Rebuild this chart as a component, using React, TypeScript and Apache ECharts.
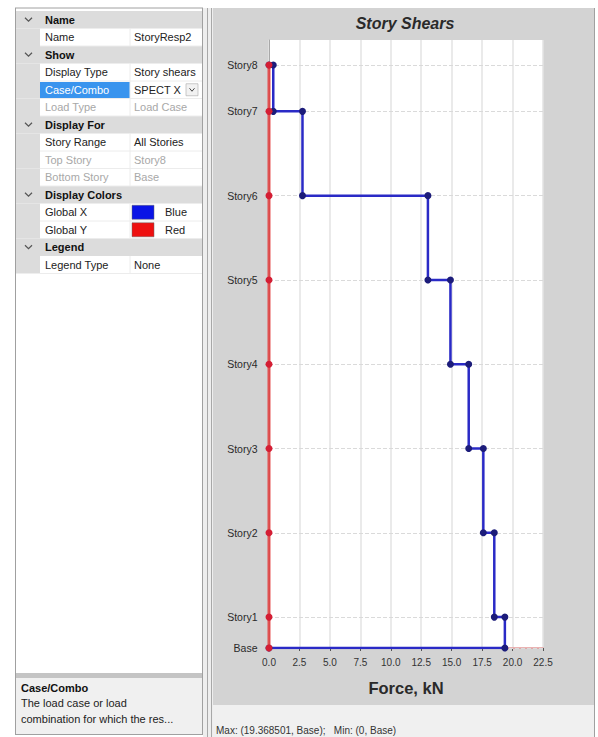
import React, { useEffect, useRef } from "react";
import * as echarts from "echarts";

// ---- chart data ----
const stories = ["Base", "Story1", "Story2", "Story3", "Story4", "Story5", "Story6", "Story7", "Story8"];
const elevations = [0, 1.1, 4.1, 7.1, 10.1, 13.1, 16.1, 19.1, 20.75];
// shear in the story below each level, Story1..Story8 (Global X)
const shearX = [19.3685, 18.5, 17.6, 16.4, 14.9, 13.05, 2.75, 0.35];
// Global Y shears (all zero)
const shearY = [0, 0, 0, 0, 0, 0, 0, 0, 0];
const xMin = 0;
const xMax = 22.5;
const xStep = 2.5;
const yMax = 21.64;

// ---- property grid text ----
const rowKinds = ["h", "p", "h", "p", "sel", "dis", "h", "p", "dis", "dis", "h", "c", "c", "h", "p"];
const propNames = [
  "Name", "Name", "Show", "Display Type", "Case/Combo", "Load Type", "Display For",
  "Story Range", "Top Story", "Bottom Story", "Display Colors", "Global X", "Global Y", "Legend", "Legend Type",
];
const propValues = ["", "StoryResp2", "", "Story shears", "SPECT X", "Load Case", "", "All Stories", "Story8", "Base", "", "Blue", "Red", "", "None"];
const descTitle = "Case/Combo";
const descLines = ["The load case or load", "combination for which the res..."];
const titleText = "Story Shears";
const xAxisName = "Force, kN";
const statusText = "Max: (19.368501, Base);   Min: (0, Base)";

const BLUE = "#2a2ac6";
const RED = "#e23a3a";
const FONT = '"Liberation Sans", Arial, sans-serif';

export default function App() {
  const ref = useRef<HTMLDivElement>(null);

  useEffect(() => {
    if (!ref.current) return;
    const chart = echarts.init(ref.current, null, { renderer: "svg" });

    // blue step line from the story shears
    const bluePts: number[][] = [[0, elevations[8]]];
    for (let i = 8; i >= 1; i--) {
      bluePts.push([shearX[i - 1], elevations[i]]);
      bluePts.push([shearX[i - 1], elevations[i - 1]]);
    }
    bluePts.push([0, elevations[0]]);
    const redPts = elevations.map((e, i) => [shearY[i], e]);

    const g: any[] = [];
    const bg = (x: number, y: number, w: number, h: number, fill: string, z = -100) =>
      g.push({ type: "rect", z, silent: true, shape: { x, y, width: w, height: h }, style: { fill } });
    const ln = (x1: number, y1: number, x2: number, y2: number, stroke: string, z = -90) =>
      g.push({ type: "line", z, silent: true, shape: { x1, y1, x2, y2 }, style: { stroke, lineWidth: 1 } });
    const tx = (x: number, y: number, text: string, fill: string, font: string, align = "left") =>
      g.push({ type: "text", z: 100, silent: true, x, y, style: { text, fill, font, align, verticalAlign: "middle" } });

    bg(0, 0, 598, 737, "#ffffff", -200);
    // left panel
    bg(15, 8, 188, 727, "#ffffff");
    const rowH = 17.5;
    const top0 = 11;
    const gutterEnd = 40;
    const valX = 130;
    rowKinds.forEach((k, i) => {
      const y = top0 + rowH * i;
      const c = y + rowH / 2;
      if (k === "h") {
        bg(15, y, 188, rowH, "#dcdcdc", -95);
        g.push({
          type: "polyline", z: 100, silent: true,
          shape: { points: [[25, c - 2], [28.5, c + 1.5], [32, c - 2]] },
          style: { stroke: "#555", lineWidth: 1.2, fill: "none" },
        });
        tx(45, c, propNames[i], "#111", `bold 11px ${FONT}`);
      } else {
        bg(15, y, gutterEnd - 15, rowH, "#dcdcdc", -95);
        ln(gutterEnd, y + rowH, 203, y + rowH, "#ececec");
        ln(valX, y, valX, y + rowH, "#ececec");
        if (k === "sel") {
          bg(gutterEnd, y + 1, valX - gutterEnd, rowH - 1, "#3994ee", -94);
          tx(45, c, propNames[i], "#ffffff", `11px ${FONT}`);
        } else {
          tx(45, c, propNames[i], k === "dis" ? "#a8a8a8" : "#222", `11px ${FONT}`);
        }
        if (k === "c") {
          const col = propValues[i] === "Blue" ? "#0a14e6" : "#ee1010";
          g.push({
            type: "rect", z: 100, silent: true,
            shape: { x: 132, y: c - 7, width: 22, height: 14 },
            style: { fill: col, stroke: "#666", lineWidth: 0.5 },
          });
          tx(165, c, propValues[i], "#222", `11px ${FONT}`);
        } else {
          tx(134, c, propValues[i], k === "dis" ? "#a8a8a8" : "#222", `11px ${FONT}`);
        }
        if (k === "sel") {
          g.push({
            type: "rect", z: 100, silent: true,
            shape: { x: 186, y: c - 6, width: 12, height: 12 },
            style: { fill: "#f2f2f2", stroke: "#aaa", lineWidth: 0.6 },
          });
          g.push({
            type: "polyline", z: 101, silent: true,
            shape: { points: [[189.5, c - 1.5], [192, c + 1.5], [194.5, c - 1.5]] },
            style: { stroke: "#444", lineWidth: 1, fill: "none" },
          });
        }
      }
    });
    // description box
    bg(15, 673, 188, 5, "#c4c4c4", -95);
    bg(15, 678, 188, 56, "#f0f0f0", -95);
    tx(21, 688, descTitle, "#111", `bold 11px ${FONT}`);
    tx(21, 703, descLines[0], "#222", `11px ${FONT}`);
    tx(21, 719, descLines[1], "#222", `11px ${FONT}`);
    ln(15, 8, 203, 8, "#a0a0a0", -80);
    ln(15.5, 8, 15.5, 735, "#a0a0a0", -80);
    ln(202.5, 8, 202.5, 735, "#a0a0a0", -80);
    ln(15, 734.5, 203, 734.5, "#a0a0a0", -80);
    // splitter
    bg(203, 8, 10, 729, "#eeeeee", -95);
    ln(207.5, 8, 207.5, 737, "#a8a8a8", -80);
    ln(211.5, 8, 211.5, 737, "#a8a8a8", -80);
    // chart panel
    bg(213, 8, 381, 697, "#d3d3d3", -95);
    bg(213, 705, 381, 32, "#f0f0f0", -95);
    ln(594.5, 8, 594.5, 737, "#a0a0a0", -80);
    tx(405, 23, titleText, "#2a2a2a", `italic bold 16px ${FONT}`, "center");
    tx(216, 730, statusText, "#333", `10px ${FONT}`);

    chart.setOption({
      animation: false,
      graphic: { elements: g },
      grid: {
        left: 269, right: 55, top: 40, bottom: 89,
        show: true, backgroundColor: "#ffffff", borderWidth: 0,
      },
      xAxis: {
        type: "value", min: xMin, max: xMax, interval: xStep,
        name: xAxisName, nameLocation: "middle", nameGap: 31,
        nameTextStyle: { fontSize: 16.5, fontWeight: "bold", color: "#2a2a2a", fontFamily: FONT },
        axisLine: { show: true, lineStyle: { color: "#e49a9a", width: 1.5 } },
        axisTick: { show: true, length: 3, lineStyle: { color: "#555" } },
        axisLabel: {
          formatter: (v: number) => v.toFixed(1), fontSize: 10, color: "#333",
          fontFamily: FONT, margin: 9, showMinLabel: true, showMaxLabel: true,
        },
        splitLine: { show: true, lineStyle: { color: "#e3e3e3", width: 1.5 } },
      },
      yAxis: {
        type: "value", min: 0, max: yMax,
        axisLine: { show: true, lineStyle: { color: "#a8a8a8" } },
        axisTick: { show: false }, axisLabel: { show: false }, splitLine: { show: false },
      },
      series: [
        {
          name: "levels", type: "line", data: [], z: 1, silent: true,
          markLine: {
            z: 1, silent: true, symbol: "none", label: { show: false },
            lineStyle: { color: "#dadada", type: "dashed", width: 1 },
            data: elevations.map((e) => ({ yAxis: e })),
          },
        },
        {
          name: "Global X", type: "line", data: bluePts, z: 3,
          lineStyle: { color: BLUE, width: 2.5 },
          itemStyle: { color: "#1c1c7a", borderColor: "#1c1c7a", borderWidth: 0 },
          symbol: "circle", symbolSize: 7, showSymbol: true,
        },
        {
          name: "Global Y", type: "line", data: redPts, z: 4,
          lineStyle: { color: RED, width: 3, opacity: 0.85 },
          itemStyle: { color: "#d41e34", borderColor: "#d41e34", borderWidth: 0 },
          symbol: "circle", symbolSize: 7, showSymbol: true,
          label: {
            show: true, position: "left", distance: 8,
            formatter: (p: any) => stories[p.dataIndex],
            fontSize: 10.5, color: "#2a2a2a", fontFamily: FONT,
          },
        },
      ],
    });
    return () => chart.dispose();
  }, []);

  return <div ref={ref} style={{ position: "absolute", left: 0, top: 0, width: 598, height: 737 }} />;
}
